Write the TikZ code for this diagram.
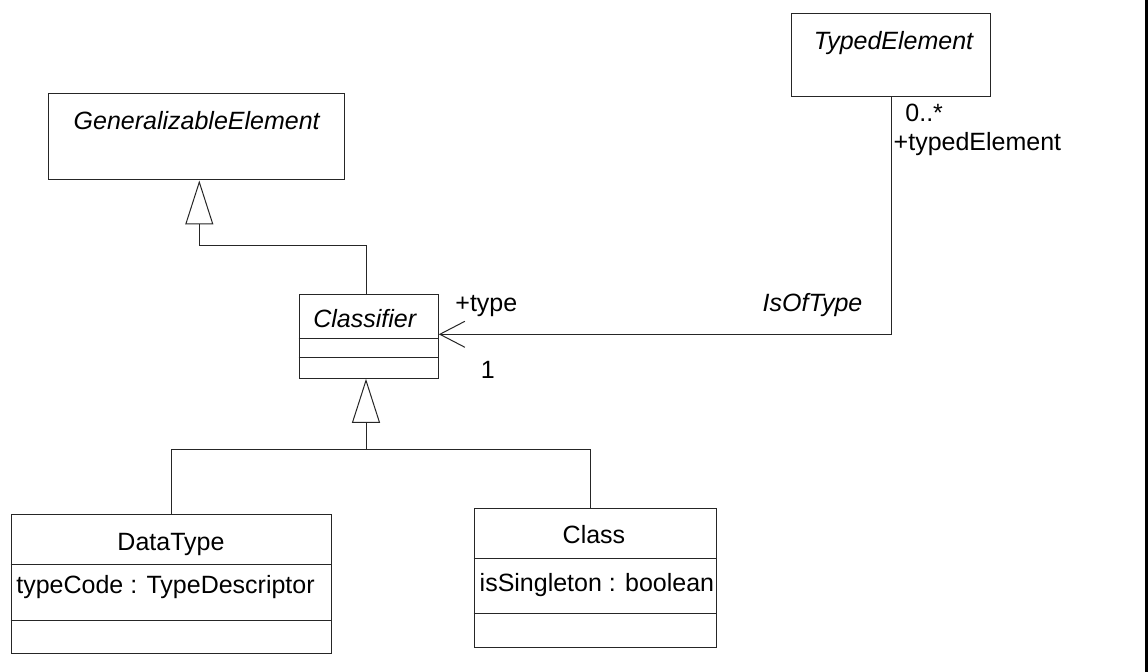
\documentclass[tikz,border=0pt]{standalone}
\usepackage{fontspec}
\setmainfont{Liberation Sans}
\usetikzlibrary{arrows.meta,fit}
\begin{document}
\begin{tikzpicture}[x=0.5pt,y=-0.5pt,
  every node/.style={font=\fontsize{12.5}{15}\selectfont},
  umlbox/.style={draw=black!85, line width=0.5pt, rectangle, inner sep=0pt},
  txt/.style={inner sep=0pt, anchor=base},
  ltxt/.style={inner sep=0pt, anchor=base west},
  rtxt/.style={inner sep=0pt, anchor=base east},
  conn/.style={draw=black!85, line width=0.5pt},
  divider/.style={draw=black!85, line width=0.5pt},
  gen/.style={conn, -{Triangle[open, length=22pt, width=14pt, line width=0.5pt]}},
  nav/.style={conn, -{Straight Barb[length=12.5pt, width=13pt, line width=0.5pt]}}
]
\useasboundingbox (0,0) rectangle (1148,672);
\fill[white] (0,0) rectangle (1148,672);
% right border
\coordinate (bt) at (1146.5,0);
\coordinate (bb) at (1146.5,672);
\draw[line width=1.3pt] (bt) -- (bb);

% GeneralizableElement
\node[umlbox, fit={(48.7,93.7) (344.3,180)}] (ge) {};
\node[txt, font=\fontsize{12.5}{15}\selectfont\itshape] (getxt) at (196.7,130) {GeneralizableElement};

% TypedElement
\node[umlbox, fit={(791.7,13.3) (990.7,96.7)}] (te) {};
\node[txt, font=\fontsize{12.5}{15}\selectfont\itshape] (tetxt) at (893.5,49.3) {TypedElement};

% Classifier
\node[umlbox, fit={(299,295) (438.3,378.3)}] (cf) {};
\node[txt, font=\fontsize{12.5}{15}\selectfont\itshape] (cftxt) at (364.7,327.7) {Classifier};
\draw[divider] (cf.west |- 0,338.7) -- (cf.east |- 0,338.7);
\draw[divider] (cf.west |- 0,357.7) -- (cf.east |- 0,357.7);

% DataType
\node[umlbox, fit={(11,515) (331,654)}] (dt) {};
\node[txt] (dttxt) at (171,550.7) {DataType};
\node[ltxt] (dtattr) at (16,594) {typeCode : TypeDescriptor};
\draw[divider] (dt.west |- 0,564.3) -- (dt.east |- 0,564.3);
\draw[divider] (dt.west |- 0,620.3) -- (dt.east |- 0,620.3);

% Class
\node[umlbox, fit={(474,509) (716,647.3)}] (cl) {};
\node[txt] (cltxt) at (594,544) {Class};
\node[ltxt] (clattr) at (479.3,591.7) {isSingleton : boolean};
\draw[divider] (cl.west |- 0,559) -- (cl.east |- 0,559);
\draw[divider] (cl.west |- 0,614) -- (cl.east |- 0,614);

% Generalization Classifier -> GeneralizableElement
\coordinate (g1a) at (366,245.3);
\coordinate (g1b) at (199.3,245.3);
\draw[conn] (cf.north -| g1a) -- (g1a) -- (g1b);
\draw[gen] (g1b) -- (g1b |- ge.south);

% Generalization DataType, Class -> Classifier
\coordinate (j) at (366,450);
\draw[conn] (dt.north) |- (j);
\draw[conn] (cl.north -| 590,0) |- (j);
\draw[gen] (j) -- (j |- cf.south);

% Association IsOfType
\coordinate (ac) at (891.2,334.3);
\draw[nav] (te.south) -- (ac) -- (ac -| cf.east);

% Association labels
\node[ltxt] (ltype) at (455,311.7) {+type};
\node[txt] (lone) at (487.7,378.3) {1};
\node[rtxt, font=\fontsize{12.5}{15}\selectfont\itshape] (lassoc) at (862.7,311.7) {IsOfType};
\node[ltxt] (lmult) at (905,121.7) {0..*};
\node[ltxt] (lrole) at (893.3,151) {+typedElement};
\end{tikzpicture}
\end{document}
